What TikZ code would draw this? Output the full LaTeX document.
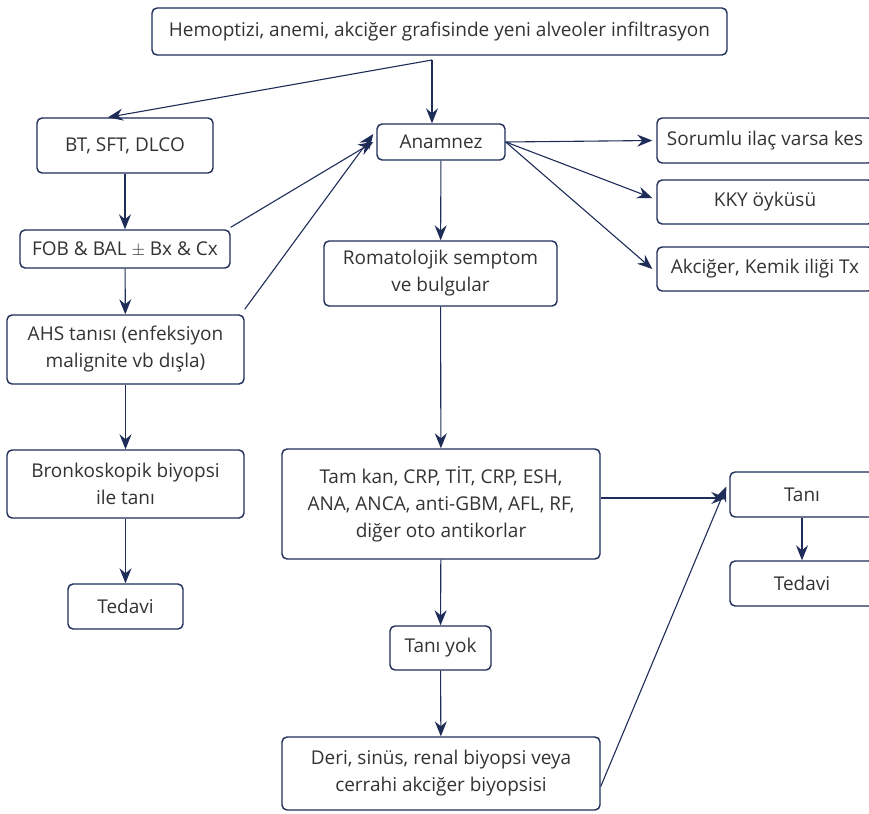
\documentclass[tikz,border=0pt]{standalone}
\usepackage{fontspec}
\setmainfont{Open Sans}
\usepackage{tikz}
\usetikzlibrary{arrows.meta}
\definecolor{navy}{RGB}{30,44,88}
\definecolor{inkgray}{RGB}{51,51,51}

\begin{document}
\begin{tikzpicture}[x=1pt, y=-1pt,
  box/.style={draw=navy, line width=1.4pt, rounded corners=5pt, fill=white,
    text=inkgray, align=center, inner sep=0pt,
    font=\fontsize{19}{27}\selectfont},
  flow/.style={draw=navy, line width=1.1pt,
    -{Stealth[length=15pt, width=12pt, inset=5pt]}}
]

% Page size
\useasboundingbox (0,0) rectangle (869,813);

% Top box
\node[box, minimum width=575pt, minimum height=47pt] (start) at (439.5,31.5)
  {Hemoptizi, anemi, akciğer grafisinde yeni alveoler infiltrasyon};
\coordinate (split) at (432,60);

% Left column
\node[box, minimum width=176pt, minimum height=55pt] (bt) at (125,145.5) {BT, SFT, DLCO};
\node[box, minimum width=210pt, minimum height=38pt] (fob) at (125,249) {FOB \& BAL $\pm$ Bx \& Cx};
\node[box, minimum width=237pt, minimum height=69pt] (ahs) at (125.5,349.5)
  {AHS tanısı (enfeksiyon\\malignite vb dışla)};
\node[box, minimum width=237pt, minimum height=68pt] (bronk) at (125.5,484)
  {Bronkoskopik biyopsi\\ile tanı};
\node[box, minimum width=115pt, minimum height=45pt] (tedA) at (125.5,606.5) {Tedavi};

% Middle column
\node[box, minimum width=128pt, minimum height=36pt] (anam) at (441,142) {Anamnez};
\node[box, minimum width=233pt, minimum height=65pt] (roma) at (440.5,273.5)
  {Romatolojik semptom\\ve bulgular};
\node[box, minimum width=318pt, minimum height=110pt] (tetkik) at (441,504)
  {Tam kan, CRP, TİT, CRP, ESH,\\ANA, ANCA, anti-GBM, AFL, RF,\\diğer oto antikorlar};
\node[box, minimum width=101pt, minimum height=44pt] (yok) at (440.5,648) {Tanı yok};
\node[box, minimum width=318pt, minimum height=73pt] (deri) at (441,773.5)
  {Deri, sinüs, renal biyopsi veya\\cerrahi akciğer biyopsisi};

% Right column
\node[box, minimum width=216pt, minimum height=45pt] (ilac) at (765,140.5) {Sorumlu ilaç varsa kes};
\node[box, minimum width=216pt, minimum height=44pt] (kky) at (765,202) {KKY öyküsü};
\node[box, minimum width=216pt, minimum height=44pt] (tx) at (765,269) {Akciğer, Kemik iliği Tx};
\node[box, minimum width=144pt, minimum height=45pt] (tani) at (802,494.5) {Tanı};
\node[box, minimum width=144pt, minimum height=45pt] (tedB) at (802,583.5) {Tedavi};

% Arrows from the top
\draw[flow] (split) -- (anam.north -| split);
\draw[flow] (split) -- ([xshift=-17pt]bt.north);

% Left chain
\draw[flow] (bt) -- (fob);
\draw[flow] (fob) -- (ahs);
\draw[flow] (ahs) -- (bronk);
\draw[flow] (bronk) -- (tedA);
\draw[flow] ([yshift=2pt]fob.north east) -- ([xshift=-3pt]anam.west);
\draw[flow] ([yshift=5pt]ahs.north east) -- ([xshift=-3pt,yshift=8pt]anam.west);

% From Anamnez
\draw[flow] (anam) -- (roma);
\draw[flow] (anam.east) -- ([xshift=-4pt]ilac.west);
\draw[flow] (anam.east) -- ([xshift=-4pt,yshift=4pt]kky.west);
\draw[flow] (anam.east) -- ([xshift=-4pt]tx.west);

% Middle chain
\draw[flow] (roma) -- (tetkik);
\draw[flow] (tetkik) -- (yok);
\draw[flow] (yok) -- (deri);
\draw[flow] (tetkik.east |- 0,498) -- ([xshift=-3pt]tani.west |- 0,498);
\draw[flow] ([yshift=-13pt]deri.east) -- ([xshift=-3pt,yshift=8pt]tani.west);
\draw[flow] (tani) -- (tedB);

\end{tikzpicture}
\end{document}
